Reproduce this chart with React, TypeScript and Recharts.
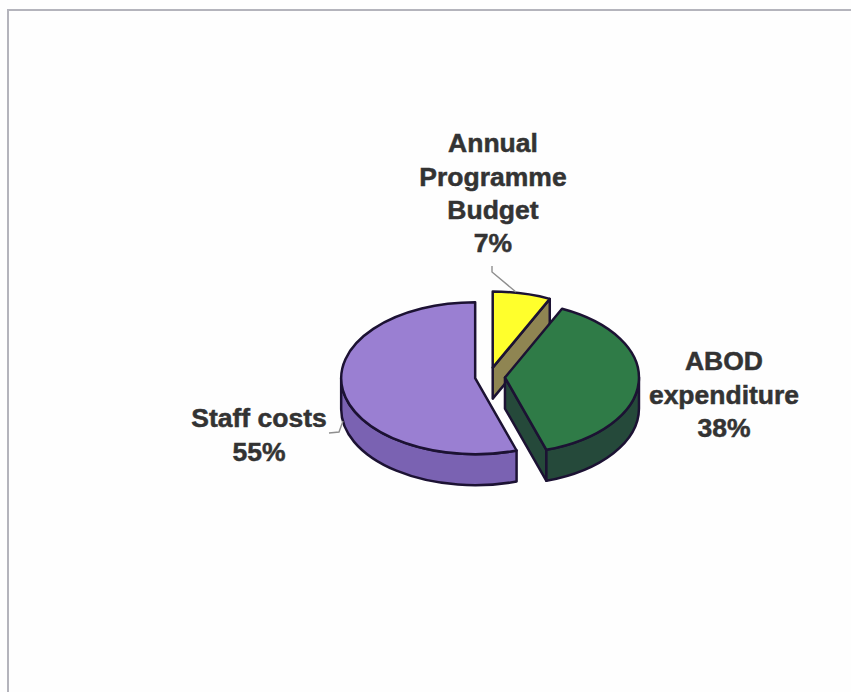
import { Pie, PieChart } from "recharts"

const categories = ["Annual Programme Budget", "ABOD expenditure", "Staff costs"]
const shares = [7, 38, 55]
const labelLines = [["Annual", "Programme", "Budget"], ["ABOD", "expenditure"], ["Staff costs"]]

const topColors = ["#FFFF2C", "#2F7B47", "#9A7FD2"]
const rimColors = ["#8F8552", "#25493A", "#7A62B2"]
const cutColors = ["#8F8552", "#25493A", "#7A62B2"]
const explode = [17, 16, 14]

// label anchor (centre x, first line centre y) and its thin leader line
const labelSpots = [
    { x: 493, y: 143, leader: "M492 266 L492 272 L516 292" },
    { x: 724, y: 361, leader: "" },
    { x: 259, y: 418, leader: "M329 433 L339 432 L343 421" },
]

const tableData = categories.map((name, i) => ({ name, value: shares[i], fill: topColors[i] }))

const SQUASH = 0.567
const DEPTH = 31
const OUTLINE = "#1c1233"
const RAD = Math.PI / 180

function Slice3D(props: any) {
    const i = categories.indexOf(props.payload?.name ?? props.name)
    const rx = props.outerRadius
    const ry = rx * SQUASH
    // clockwise degrees from twelve o'clock
    const a0 = 90 - props.startAngle
    const a1 = 90 - props.endAngle
    const mid = ((a0 + a1) / 2) * RAD
    const cx = props.cx + explode[i] * Math.sin(mid)
    const cy = props.cy - explode[i] * Math.cos(mid) * SQUASH
    const pt = (deg: number, dy = 0) => {
        const t = deg * RAD
        return `${cx + rx * Math.sin(t)} ${cy - ry * Math.cos(t) + dy}`
    }
    const large = a1 - a0 > 180 ? 1 : 0
    const top = `M${cx} ${cy} L${pt(a0)} A${rx} ${ry} 0 ${large} 1 ${pt(a1)} Z`

    // outer wall only shows on the front half of the ellipse
    const r0 = Math.max(a0, 90)
    const r1 = Math.min(a1, 270)
    const rim = r1 > r0
        ? `M${pt(r0)} A${rx} ${ry} 0 0 1 ${pt(r1)} L${pt(r1, DEPTH)} A${rx} ${ry} 0 0 0 ${pt(r0, DEPTH)} Z`
        : ""

    const cutAt = Math.sin(a1 * RAD) > 0.01 ? a1 : Math.sin(a0 * RAD) < -0.01 ? a0 : null
    const cut = cutAt === null
        ? ""
        : `M${cx} ${cy} L${pt(cutAt)} L${pt(cutAt, DEPTH)} L${cx} ${cy + DEPTH} Z`

    const edge = { stroke: OUTLINE, strokeWidth: 2.5, strokeLinejoin: "round" as const }
    return (
        <g>
            {cut && <path d={cut} fill={cutColors[i]} {...edge} />}
            {rim && <path d={rim} fill={rimColors[i]} {...edge} />}
            <path d={top} fill={topColors[i]} {...edge} />
        </g>
    )
}

function SliceLabel(props: any) {
    const i = props.index
    const spot = labelSpots[i]
    const lines = [...labelLines[i], `${shares[i]}%`]
    return (
        <g>
            {spot.leader && <path d={spot.leader} fill="none" stroke="#8f8f8f" strokeWidth={1.4} />}
            <text
                textAnchor="middle"
                fontFamily="'Liberation Sans', Arial, sans-serif"
                fontWeight="bold"
                fontSize={26.5}
                fill="#333333"
                stroke="#333333"
                strokeWidth={0.5}
            >
                {lines.map((line, k) => (
                    <tspan key={k} x={spot.x} y={spot.y + k * 33.3} dy="0.35em">{line}</tspan>
                ))}
            </text>
        </g>
    )
}

export default function App() {
    return (
        <div style={{ position: "fixed", left: 0, top: 0, width: 851, height: 692, background: "#fefefe", overflow: "hidden" }}>
            <div style={{ position: "absolute", left: 7, top: 9, right: 0, bottom: 0, borderTop: "2px solid #b4b4bc", borderLeft: "2px solid #b4b4bc" }} />
            <PieChart width={851} height={692} margin={{ top: 0, right: 0, bottom: 0, left: 0 }} style={{ position: "absolute", left: 0, top: 0 }}>
                <Pie
                    data={tableData}
                    dataKey="value"
                    nameKey="name"
                    cx={489}
                    cy={377}
                    outerRadius={134}
                    startAngle={90}
                    endAngle={-270}
                    shape={Slice3D}
                    label={SliceLabel}
                    labelLine={false}
                    isAnimationActive={false}
                />
            </PieChart>
        </div>
    )
}
